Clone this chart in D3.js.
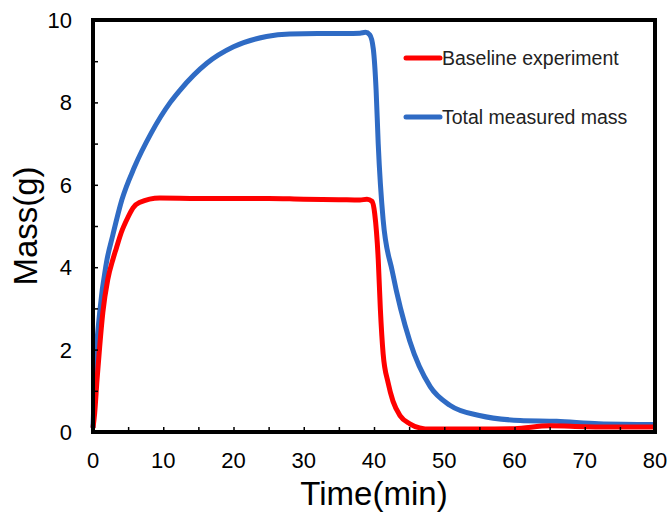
<!DOCTYPE html>
<html>
<head>
<meta charset="utf-8">
<script src="https://cdn.jsdelivr.net/npm/d3@7"></script>
<style>
  body { margin: 0; background: #fff; }
  text { font-family: Arial, "Liberation Sans", sans-serif; }
</style>
</head>
<body>
<svg id="chart" width="670" height="517"></svg>
<script>
// time in minutes, mass in grams
const baselineTime = [0, 0.24, 0.57, 0.95, 1.4, 2.1, 2.85, 3.3, 4.0, 5.0, 5.7, 6.6, 9.5, 15, 20, 25, 30, 35, 38, 39, 39.7, 40.1, 40.6, 40.9, 41.3, 42, 42.7, 43.7, 45.1, 46.5, 48, 55, 60, 65, 70, 75, 80]
const baselineMass = [0.1, 0.46, 1.26, 2.07, 2.9, 3.7, 4.2, 4.45, 4.83, 5.22, 5.44, 5.57, 5.68, 5.67, 5.67, 5.67, 5.65, 5.64, 5.63, 5.65, 5.6, 5.3, 4.2, 3.0, 1.9, 1.2, 0.75, 0.4, 0.2, 0.1, 0.07, 0.07, 0.08, 0.15, 0.13, 0.12, 0.12]
const totalTime = [0, 0.24, 0.95, 1.9, 2.85, 4.1, 5.9, 8.3, 11, 12.4, 16.2, 20, 24.7, 28, 32, 36, 38, 38.8, 39.4, 39.9, 40.3, 40.6, 41.3, 42.6, 45.1, 48, 50.8, 55, 60.8, 66, 72, 80]
const totalMass = [0.1, 1.26, 2.9, 4.1, 4.8, 5.63, 6.43, 7.26, 8.0, 8.3, 8.95, 9.35, 9.6, 9.66, 9.67, 9.67, 9.68, 9.7, 9.64, 9.3, 8.3, 7.0, 5.15, 3.9, 2.2, 1.1, 0.65, 0.4, 0.28, 0.26, 0.2, 0.18]

const seriesNames = ["Baseline experiment", "Total measured mass"]
const seriesColors = ["#ff0000", "#2f6bc4"]
const xTicks = [0, 10, 20, 30, 40, 50, 60, 70, 80]
const yTicks = [0, 2, 4, 6, 8, 10]

const svg = d3.select("#chart")
const plotLeft = 93, plotRight = 655, plotTop = 20, plotBottom = 432

const x = d3.scaleLinear().domain([0, 80]).range([plotLeft, plotRight])
const y = d3.scaleLinear().domain([0, 10]).range([plotBottom, plotTop])

const series = [
  { name: seriesNames[0], color: seriesColors[0], pts: baselineTime.map((t, i) => [t, baselineMass[i]]) },
  { name: seriesNames[1], color: seriesColors[1], pts: totalTime.map((t, i) => [t, totalMass[i]]) }
]

const line = d3.line()
  .x(d => x(d[0]))
  .y(d => y(d[1]))
  .curve(d3.curveMonotoneX)

// draw total first so red sits on top near the baseline
series.slice().reverse().forEach(s => {
  svg.append("path")
    .attr("d", line(s.pts))
    .attr("fill", "none")
    .attr("stroke", s.color)
    .attr("stroke-width", 5)
    .attr("stroke-linejoin", "round")
})

// minor inner ticks
const xAxis = d3.axisBottom(x).tickValues(d3.range(0, 81, 5)).tickSize(-5).tickFormat("")
svg.append("g").attr("transform", `translate(0,${plotBottom})`).call(xAxis)
  .call(g => g.select(".domain").remove())
  .selectAll("line").attr("stroke", "#000").attr("stroke-width", 1.5)
const yAxis = d3.axisLeft(y).tickValues(d3.range(0, 10.1, 1)).tickSize(-5).tickFormat("")
svg.append("g").attr("transform", `translate(${plotLeft},0)`).call(yAxis)
  .call(g => g.select(".domain").remove())
  .selectAll("line").attr("stroke", "#000").attr("stroke-width", 1.5)

// frame
svg.append("rect")
  .attr("x", plotLeft).attr("y", plotTop)
  .attr("width", plotRight - plotLeft).attr("height", plotBottom - plotTop)
  .attr("fill", "none").attr("stroke", "#000").attr("stroke-width", 4)

// tick labels
svg.append("g").selectAll("text").data(xTicks).join("text")
  .attr("x", d => x(d)).attr("y", 468)
  .attr("text-anchor", "middle")
  .attr("font-size", 22)
  .text(d => d)
svg.append("g").selectAll("text").data(yTicks).join("text")
  .attr("x", 72).attr("y", d => y(d) + 8)
  .attr("text-anchor", "end")
  .attr("font-size", 22)
  .text(d => d)

// axis titles
svg.append("text")
  .attr("x", (plotLeft + plotRight) / 2).attr("y", 505)
  .attr("text-anchor", "middle")
  .attr("font-size", 33)
  .text("Time(min)")
svg.append("text")
  .attr("transform", `translate(37,${(plotTop + plotBottom) / 2}) rotate(-90)`)
  .attr("text-anchor", "middle")
  .attr("font-size", 33)
  .text("Mass(g)")

// legend
const legend = svg.append("g")
series.forEach((s, i) => {
  const ly = 58 + i * 59
  legend.append("line")
    .attr("x1", 406).attr("x2", 440)
    .attr("y1", ly).attr("y2", ly)
    .attr("stroke", s.color).attr("stroke-width", 5)
    .attr("stroke-linecap", "round")
  legend.append("text")
    .attr("x", 442).attr("y", ly + 7)
    .attr("font-size", 19.5)
    .attr("fill", "#222")
    .text(s.name)
})
</script>
</body>
</html>
